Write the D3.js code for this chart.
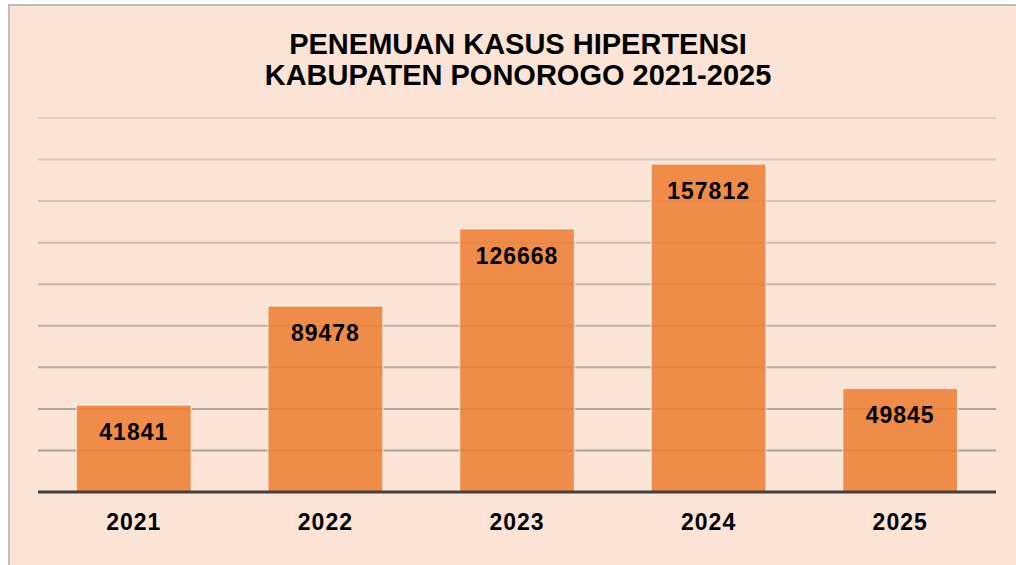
<!DOCTYPE html>
<html lang="en">
<head>
    <meta charset="UTF-8">
    <title>Penemuan Kasus Hipertensi</title>
    <style>
        html, body { margin: 0; padding: 0; background: #fff; }
        svg { display: block; }
        text { font-family: "Liberation Sans", Arial, sans-serif; font-weight: bold; fill: #000; }
    </style>
</head>
<body>
    <script src="https://d3js.org/d3.v7.min.js"></script>
    <script>
        // data
        const years = ['2021', '2022', '2023', '2024', '2025'];
        const cases = [41841, 89478, 126668, 157812, 49845];
        const titleLines = ['PENEMUAN KASUS HIPERTENSI', 'KABUPATEN PONOROGO 2021-2025'];
        const yMax = 180000;

        let width = 1016, height = 565;
        const svg = d3.select('body').append('svg')
            .attr('width', width).attr('height', height);

        // peach panel with grey frame (left + top edges visible)
        svg.append('rect')
            .attr('x', 9).attr('y', 5)
            .attr('width', width).attr('height', height)
            .attr('fill', '#FBE4D6')
            .attr('stroke', '#BDBDBD').attr('stroke-width', 2);

        const plotLeft = 38, plotRight = 996, plotTop = 118, plotBottom = 492;

        const x = d3.scaleBand()
            .domain(years)
            .range([plotLeft, plotRight])
            .paddingInner(0.4)
            .paddingOuter(0.2);

        const y = d3.scaleLinear()
            .domain([0, yMax])
            .range([plotBottom, plotTop]);

        // title
        svg.append('g').selectAll('text')
            .data(titleLines).enter()
            .append('text')
            .attr('x', 518)
            .attr('y', (d, i) => 54 + i * 31)
            .attr('text-anchor', 'middle')
            .style('font-size', '29px')
            .style('letter-spacing', '0px')
            .text(d => d);

        // gridlines, lighter towards the top
        const gridColor = d3.interpolateRgb('#A29A95', '#DDCFC6');
        const ticks = y.ticks(9).filter(t => t > 0);
        svg.append('g')
            .selectAll('line')
            .data(ticks).enter()
            .append('line')
            .attr('x1', plotLeft).attr('x2', plotRight)
            .attr('y1', d => y(d)).attr('y2', d => y(d))
            .attr('stroke', d => gridColor(d / yMax))
            .attr('stroke-width', 2);

        // bars
        svg.append('g')
            .selectAll('rect')
            .data(cases).enter()
            .append('rect')
            .attr('x', (d, i) => x(years[i]))
            .attr('y', d => y(d))
            .attr('width', x.bandwidth())
            .attr('height', d => plotBottom - y(d))
            .attr('fill', '#ED7D31')
            .attr('fill-opacity', 0.85)
            .attr('stroke', '#fff')
            .attr('stroke-opacity', 0.55)
            .attr('stroke-width', 1.5);

        // value labels inside bar tops
        svg.append('g')
            .selectAll('text')
            .data(cases).enter()
            .append('text')
            .attr('x', (d, i) => x(years[i]) + x.bandwidth() / 2)
            .attr('y', d => y(d) + 35)
            .attr('text-anchor', 'middle')
            .style('font-size', '23px')
            .style('letter-spacing', '1px')
            .text(d => d);

        // baseline
        svg.append('line')
            .attr('x1', plotLeft).attr('x2', plotRight)
            .attr('y1', plotBottom).attr('y2', plotBottom)
            .attr('stroke', '#404040')
            .attr('stroke-width', 3);

        // category labels
        const xAxis = svg.append('g')
            .attr('transform', `translate(0,${plotBottom})`)
            .call(d3.axisBottom(x).tickSize(0).tickPadding(0));
        xAxis.select('.domain').remove();
        xAxis.selectAll('text')
            .attr('y', 38)
            .attr('dy', null)
            .style('font-size', '23px')
            .style('letter-spacing', '1px')
            .style('font-family', '"Liberation Sans", Arial, sans-serif')
            .attr('fill', '#000');
    </script>
</body>
</html>
